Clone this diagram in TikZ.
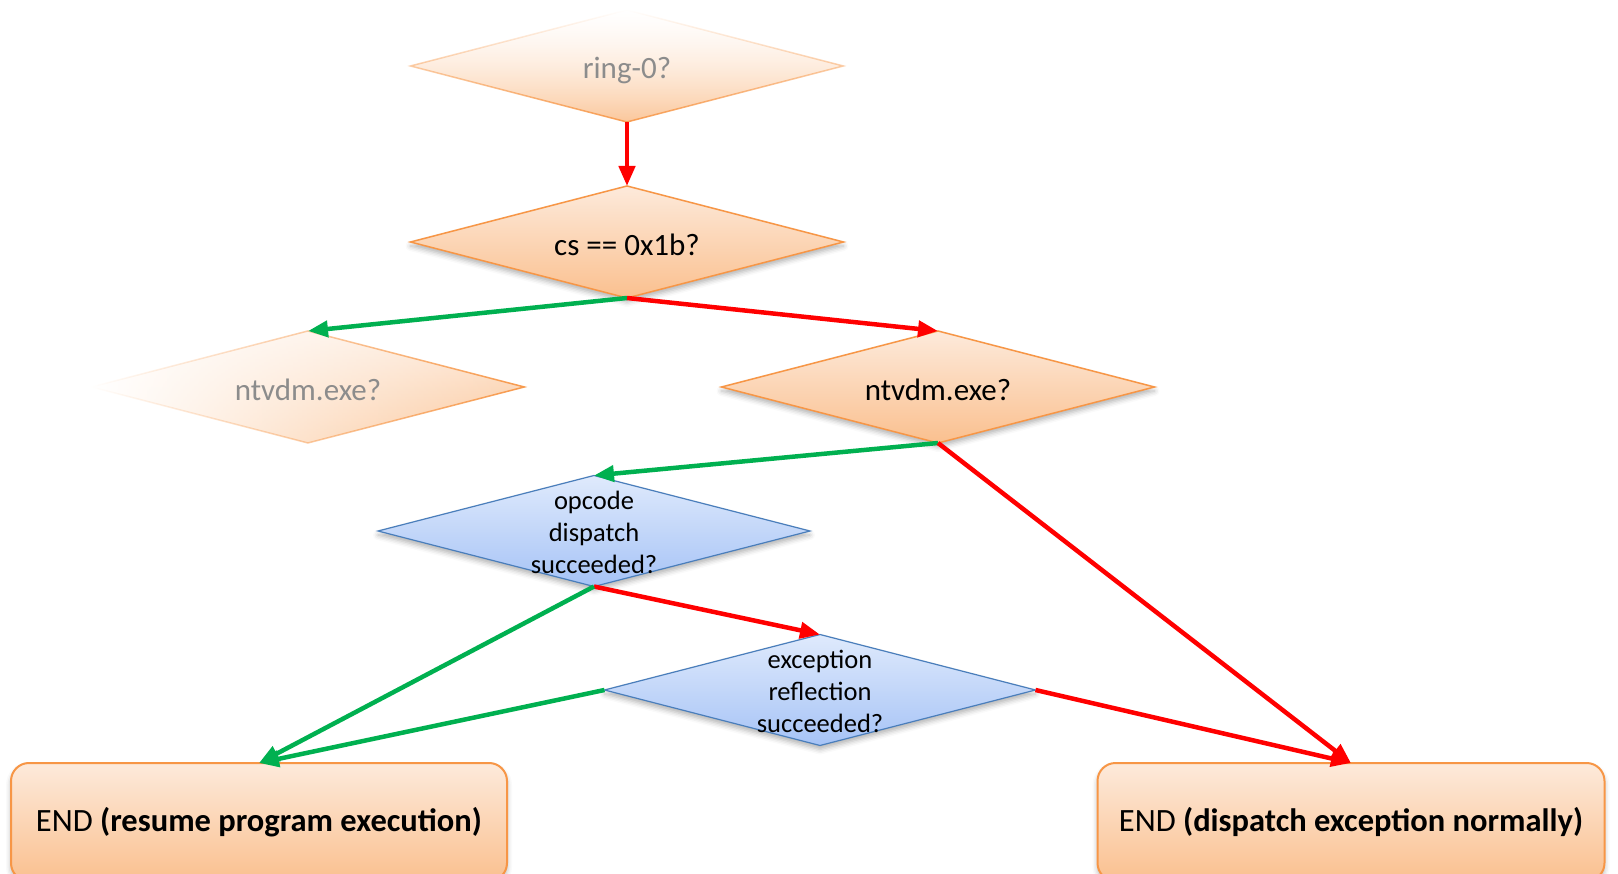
\documentclass[tikz,border=0pt]{standalone}
\usepackage{fontspec}
\setmainfont{Carlito}
\usetikzlibrary{shapes.geometric, arrows.meta, fadings, shadows.blur}

\definecolor{accent}{HTML}{F79646}
\definecolor{peachtop}{HTML}{FDEADB}
\definecolor{peachbot}{HTML}{FAC08F}
\definecolor{bluetop}{HTML}{DFEAFC}
\definecolor{bluebot}{HTML}{A6C3F6}
\definecolor{blueline}{HTML}{4A7EBB}
\definecolor{yesline}{HTML}{00B050}
\definecolor{noline}{HTML}{FF0000}
\definecolor{dimtext}{HTML}{8C8C8C}

% fadings for the two greyed-out decisions
\tikzfading[name=fadeupward, top color=transparent!100, bottom color=transparent!10]
\tikzfading[name=fadeleftward, left color=transparent!100, right color=transparent!5]

\tikzset{
  decision/.style={shape=diamond, minimum width=433pt, minimum height=112pt,
    inner sep=0pt, outer sep=0pt, line width=1.5pt},
  orangedec/.style={decision, draw=accent, top color=peachtop, bottom color=peachbot},
  bluedec/.style={decision, draw=blueline, line width=1.2pt, top color=bluetop, bottom color=bluebot},
  softshadow/.style={blur shadow={shadow xshift=0pt, shadow yshift=-4pt,
    shadow blur radius=5pt, shadow opacity=30}},
  biglbl/.style={font=\fontsize{31}{37}\selectfont, text=black, inner sep=0pt, yshift=-3pt},
  smalllbl/.style={font=\fontsize{26.5}{32}\selectfont, text=black, align=center, inner sep=0pt, yshift=-1pt},
  dimlbl/.style={font=\fontsize{31}{37}\selectfont, text=dimtext, inner sep=0pt, yshift=-3pt},
  endbox/.style={rectangle, rounded corners=18pt, draw=accent, line width=2pt,
    top color=peachtop, bottom color=peachbot, minimum height=118pt,
    inner sep=0pt, outer sep=0pt, font=\fontsize{32.5}{38}\selectfont, softshadow},
  flow/.style={line width=4.5pt, -{Triangle[length=20pt, width=16pt]}},
  yes/.style={flow, draw=yesline, fill=yesline},
  no/.style={flow, draw=noline, fill=noline},
}

\begin{document}
\begin{tikzpicture}[x=1pt, y=-1pt]
\useasboundingbox (0,0) rectangle (1618,874);

% decisions
\node[orangedec, path fading=fadeupward, label={[dimlbl, yshift=-2pt]center:ring-0?}] (ring) at (627,66) {};
\node[orangedec, softshadow, label={[biglbl]center:cs == 0x1b?}] (cs) at (627,242) {};
\node[orangedec, path fading=fadeleftward, label={[dimlbl]center:ntvdm.exe?}] (ntvl) at (308,387) {};
\node[orangedec, softshadow, label={[biglbl]center:ntvdm.exe?}] (ntvr) at (938,387) {};
\node[bluedec, softshadow, minimum width=432pt, minimum height=111pt,
  label={[smalllbl]center:opcode\\dispatch\\succeeded?}] (opc) at (594,531) {};
\node[bluedec, softshadow, minimum width=431pt, minimum height=111pt,
  label={[smalllbl]center:exception\\reflection\\succeeded?}] (exc) at (820,690) {};

% terminal boxes
\node[endbox, minimum width=496pt] (endl) at (259,822) {END \textbf{(resume program execution)}};
\node[endbox, minimum width=507pt] (endr) at (1351,822) {END \textbf{(dispatch exception normally)}};

% connectors
\draw[no] (ring.south) -- (cs.north);
\draw[yes] (cs.south) -- (ntvl.north);
\draw[no] (cs.south) -- (ntvr.north);
\draw[yes] (ntvr.south) -- (opc.north);
\draw[no] (ntvr.south) -- (endr.north);
\draw[no] (opc.south) -- (exc.north);
\draw[yes] (opc.south) -- (endl.north);
\draw[yes] (exc.west) -- (endl.north);
\draw[no] (exc.east) -- (endr.north);
\end{tikzpicture}
\end{document}
